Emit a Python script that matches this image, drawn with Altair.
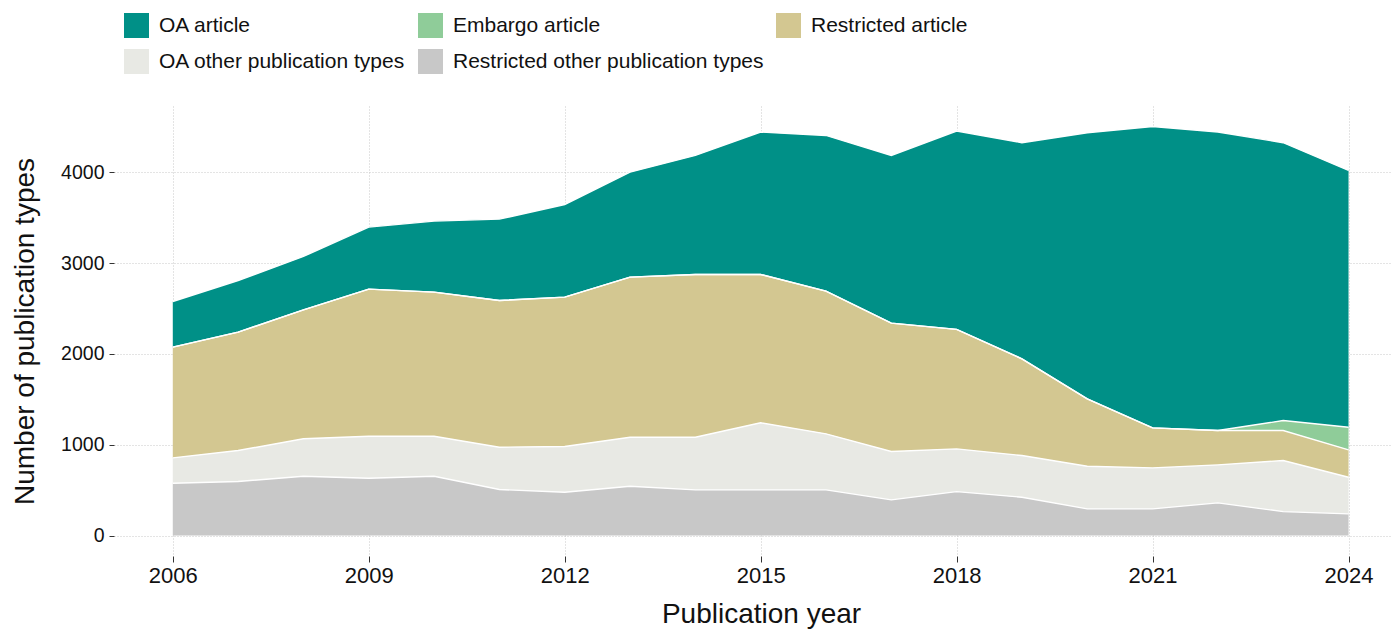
import altair as alt
import pandas as pd

years = list(range(2006, 2025))
series_names = [
    "OA article",
    "Embargo article",
    "Restricted article",
    "OA other publication types",
    "Restricted other publication types",
]
series_colors = ["#009087", "#8FCC99", "#D3C791", "#E8E9E4", "#C8C8C8"]
# stacking order: bottom (0) to top (4)
stack_rank = {
    "Restricted other publication types": 0,
    "OA other publication types": 1,
    "Restricted article": 2,
    "Embargo article": 3,
    "OA article": 4,
}

oa_article = [503, 569, 588, 683, 782, 896, 1020, 1156, 1311, 1568, 1714, 1847, 2183, 2379, 2930, 3318, 3286, 3059, 2827]
embargo_article = [0, 0, 0, 0, 0, 0, 0, 0, 0, 0, 0, 0, 0, 0, 0, 0, 0, 110, 249]
restricted_article = [1219, 1303, 1420, 1619, 1586, 1615, 1645, 1762, 1791, 1633, 1571, 1413, 1316, 1065, 742, 441, 378, 330, 302]
oa_other = [279, 341, 412, 463, 441, 466, 503, 540, 580, 738, 617, 532, 470, 459, 469, 451, 418, 562, 403]
restricted_other = [576, 595, 653, 631, 653, 507, 477, 543, 503, 503, 503, 393, 484, 422, 294, 294, 360, 264, 239]

x_ticks = [2006, 2009, 2012, 2015, 2018, 2021, 2024]
y_ticks = [0, 1000, 2000, 3000, 4000]

values = {
    "OA article": oa_article,
    "Embargo article": embargo_article,
    "Restricted article": restricted_article,
    "OA other publication types": oa_other,
    "Restricted other publication types": restricted_other,
}
rows = []
for name, vals in values.items():
    for yr, v in zip(years, vals):
        rows.append({"year": yr, "series": name, "value": v, "rank": stack_rank[name]})
df = pd.DataFrame(rows)

FONT = "Liberation Sans"
TXT = "#111111"

base = alt.Chart(df).transform_stack(
    stack="value",
    groupby=["year"],
    as_=["y0", "y1"],
    sort=[alt.SortField("rank", order="ascending")],
)

x_enc = alt.X(
    "year:Q",
    scale=alt.Scale(domain=[2005.1, 2024.65], nice=False, zero=False),
    axis=alt.Axis(
        values=x_ticks,
        format="d",
        title="Publication year",
        labelFontSize=22,
        labelPadding=3,
        tickSize=6,
        titleFontSize=28,
        titleFontWeight="normal",
        titleX=647,
        titleY=66,
        titleAlign="center",
        titleBaseline="alphabetic",
    ),
)
y_scale = alt.Scale(domain=[-225, 4729], nice=False, zero=False)
y_axis = alt.Axis(
    values=y_ticks,
    format="d",
    title="Number of publication types",
    labelFontSize=19.5,
    labelPadding=5,
    tickSize=5,
    titleFontSize=28,
    titleFontWeight="normal",
    titleAngle=270,
    titleX=-81,
    titleY=225,
    titleAlign="center",
    titleBaseline="alphabetic",
)

area = base.mark_area(interpolate="linear", opacity=1).encode(
    x=x_enc,
    y=alt.Y("y1:Q", scale=y_scale, axis=y_axis),
    y2="y0:Q",
    color=alt.Color(
        "series:N",
        scale=alt.Scale(domain=series_names, range=series_colors),
        legend=alt.Legend(
            orient="none",
            legendX=10,
            legendY=-93,
            direction="horizontal",
            columns=3,
            title=None,
            symbolType="square",
            symbolSize=625,
            symbolStrokeWidth=0,
            symbolOpacity=1,
            labelFont=FONT,
            labelFontSize=21,
            labelColor=TXT,
            labelOffset=10,
            labelLimit=0,
            columnPadding=12,
            rowPadding=11,
        ),
    ),
)

lines = base.mark_line(color="white", strokeWidth=1.4, interpolate="linear").encode(
    x=x_enc,
    y=alt.Y("y1:Q", scale=y_scale, axis=y_axis),
    detail="series:N",
    order="year:Q",
)

chart = (
    alt.layer(area, lines)
    .properties(
        width=1277,
        height=450,
        autosize=alt.AutoSizeParams(type="none"),
        padding={"left": 106, "top": 98, "right": 0, "bottom": 74},
    )
    .configure(font=FONT)
    .configure_view(stroke=None)
    .configure_axis(
        domain=False,
        grid=True,
        gridColor="#c8c8c8",
        gridDash=[1, 2],
        gridWidth=1,
        tickColor="#333333",
        labelColor=TXT,
        titleColor=TXT,
        labelFont=FONT,
        titleFont=FONT,
    )
)

chart.save("out.html", embed_options={"renderer": "svg", "actions": False})
